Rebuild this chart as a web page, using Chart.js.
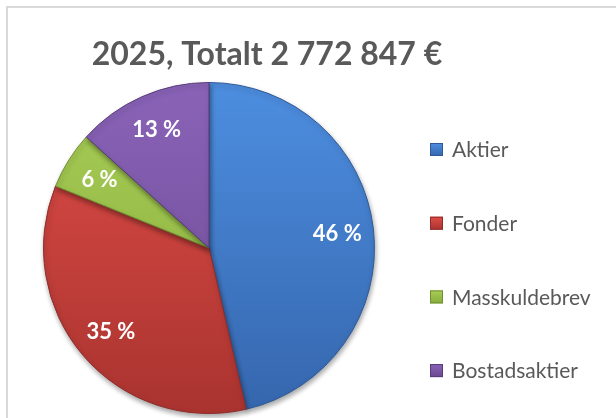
<!DOCTYPE html>
<html>
<head>
<meta charset="utf-8">
<script src="https://cdn.jsdelivr.net/npm/chart.js@4"></script>
<style>
  html, body { margin: 0; padding: 0; background: #fff; overflow: hidden; }
  #frame { position: absolute; left: 6px; top: 6px; width: 700px; height: 500px; border: 2px solid #d9d9d9; box-sizing: border-box; }
  #wrap { position: absolute; left: 0; top: 0; width: 616px; height: 418px; }
</style>
</head>
<body>
<div id="frame"></div>
<div id="wrap"><canvas id="pieChart"></canvas></div>
<script>
const categories = ['Aktier', 'Fonder', 'Masskuldebrev', 'Bostadsaktier'];
const shares = [46.4, 34.7, 5.6, 13.3]; // andel i %
const chartTitle = '2025, Totalt 2 772 847 €';

// ljus överkant -> mörk underkant, som Excel-stilen
const topColors = ['#4d8ee0', '#e04d48', '#a8cd57', '#8a63b8'];
const bottomColors = ['#3566ad', '#a9332f', '#86ad3a', '#6a4890'];
const edgeColors = ['#2f5a97', '#8e2d2a', '#6f8f30', '#573c78'];

const FONT = 'Lato, "Open Sans", sans-serif';
const textGray = '#595959';

function sliceFill(c) {
    const area = c.chart.chartArea;
    if (!area) return topColors[c.dataIndex];
    const g = c.chart.ctx.createLinearGradient(0, area.top, 0, area.bottom);
    g.addColorStop(0, topColors[c.dataIndex]);
    g.addColorStop(1, bottomColors[c.dataIndex]);
    return g;
}

// titel, legend och procentetiketter
const excelLook = {
    id: 'excelLook',
    beforeDatasetsDraw(chart) {
        const ctx = chart.ctx;
        ctx.save();
        ctx.shadowColor = 'rgba(0,0,0,0.35)';
        ctx.shadowBlur = 5;
        ctx.shadowOffsetX = 1;
        ctx.shadowOffsetY = 3;
    },
    afterDatasetsDraw(chart) {
        const ctx = chart.ctx;
        ctx.restore();

        const meta = chart.getDatasetMeta(0);
        const total = shares.reduce((a, b) => a + b, 0);
        ctx.save();
        ctx.fillStyle = '#fff';
        ctx.font = 'bold 22px ' + FONT;
        ctx.textAlign = 'center';
        ctx.textBaseline = 'middle';
        meta.data.forEach((arc, i) => {
            const p = arc.getProps(['x', 'y', 'startAngle', 'endAngle', 'outerRadius'], true);
            const mid = (p.startAngle + p.endAngle) / 2;
            const r = p.outerRadius * 0.78;
            const pct = Math.round(shares[i] / total * 100);
            ctx.fillText(pct + ' %', p.x + Math.cos(mid) * r, p.y + Math.sin(mid) * r);
        });
        ctx.restore();
    },
    afterDraw(chart) {
        const ctx = chart.ctx;
        ctx.save();
        // titel
        ctx.fillStyle = textGray;
        ctx.font = 'bold 32px ' + FONT;
        ctx.textAlign = 'center';
        ctx.textBaseline = 'alphabetic';
        ctx.fillText(chartTitle, 267, 65);

        // legend
        ctx.font = '21px ' + FONT;
        ctx.textAlign = 'left';
        ctx.textBaseline = 'middle';
        categories.forEach((name, i) => {
            const cy = 149.5 + i * 73.7;
            const g = ctx.createLinearGradient(0, cy - 6.5, 0, cy + 6.5);
            g.addColorStop(0, topColors[i]);
            g.addColorStop(1, bottomColors[i]);
            ctx.fillStyle = g;
            ctx.fillRect(430, cy - 6.5, 13, 13);
            ctx.strokeStyle = edgeColors[i];
            ctx.lineWidth = 1;
            ctx.strokeRect(430.5, cy - 6, 12, 12);
            ctx.fillStyle = textGray;
            ctx.fillText(name, 452, cy + 1);
        });
        ctx.restore();
    }
};

const ctx = document.getElementById('pieChart').getContext('2d');
const pieChart = new Chart(ctx, {
    type: 'pie',
    data: {
        labels: categories,
        datasets: [{
            data: shares,
            backgroundColor: sliceFill,
            borderColor: edgeColors,
            borderWidth: 1
        }]
    },
    options: {
        responsive: true,
        maintainAspectRatio: false,
        animation: false,
        events: [],
        layout: {
            padding: { left: 43, right: 241, top: 82, bottom: 4 }
        },
        plugins: {
            legend: { display: false },
            title: { display: false },
            tooltip: { enabled: false }
        }
    },
    plugins: [excelLook]
});
</script>
</body>
</html>
